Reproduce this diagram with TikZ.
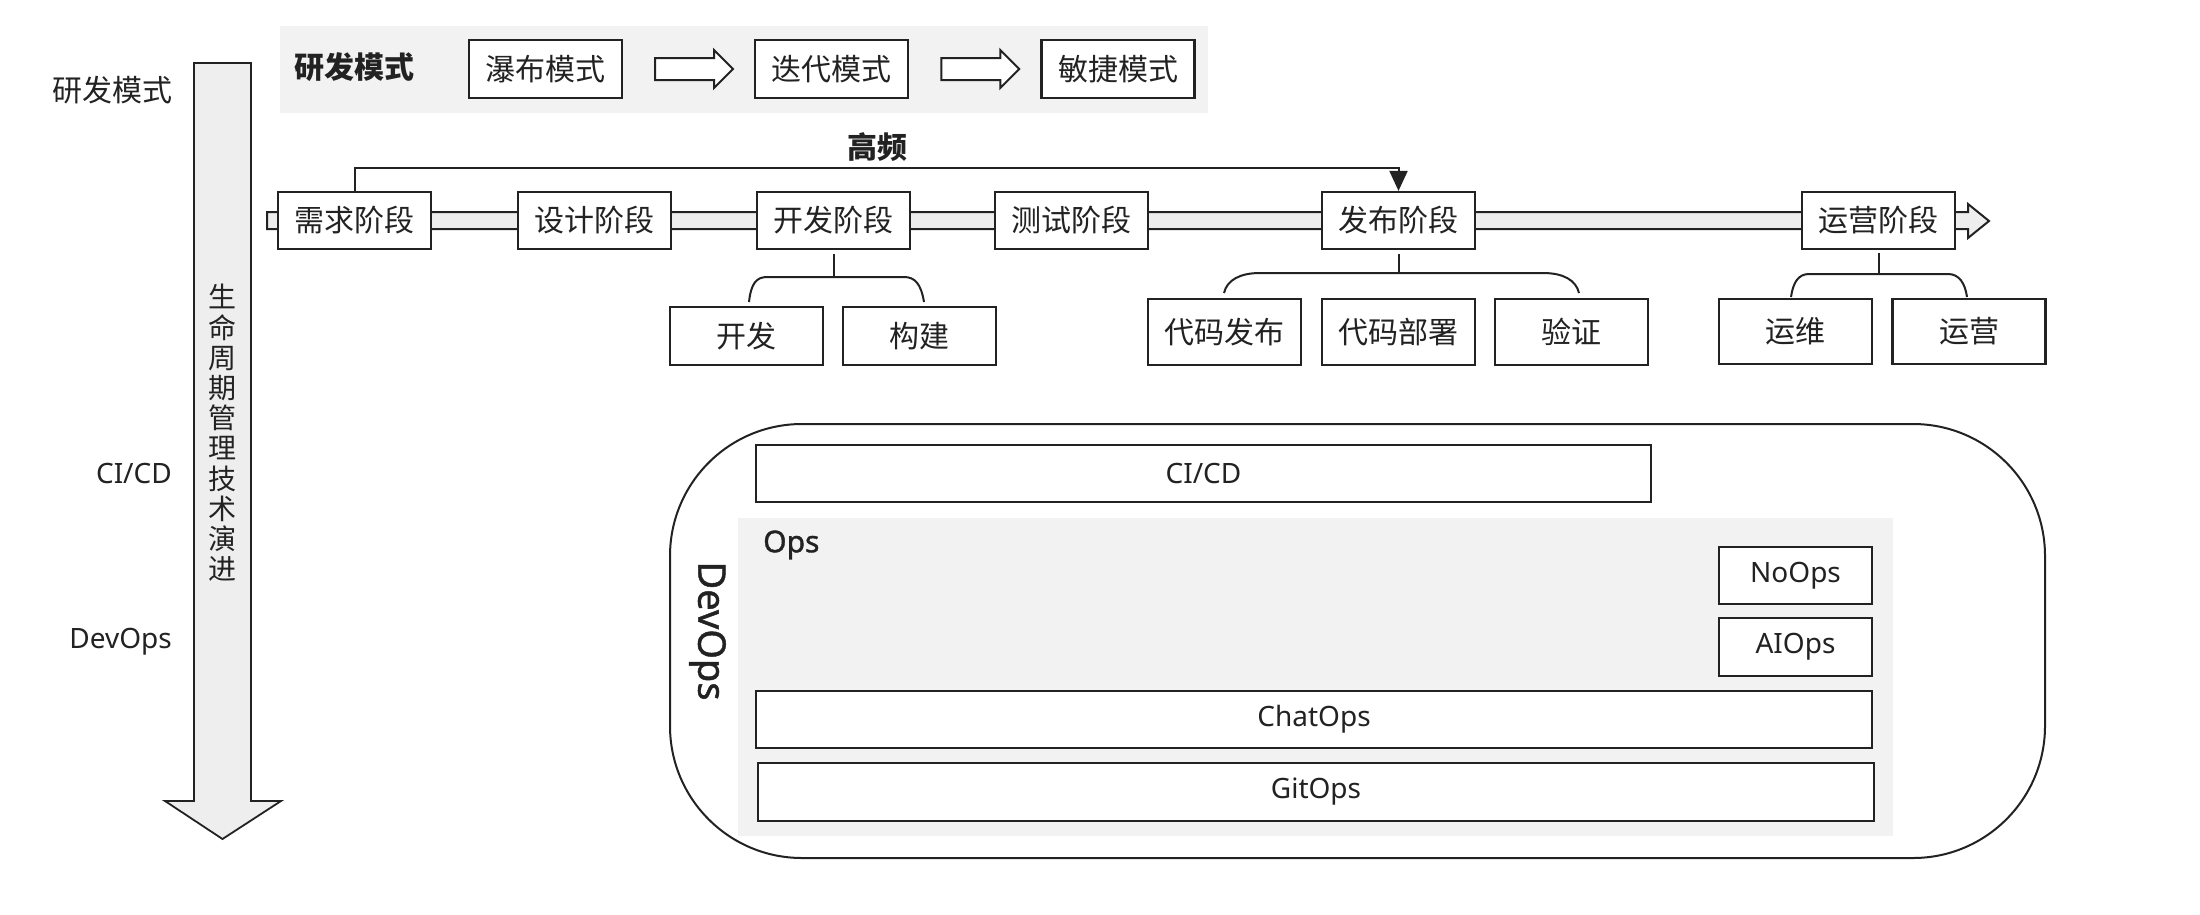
\documentclass[tikz,border=0pt]{standalone}
\usepackage{fontspec}
\setmainfont{Noto Sans}
\newfontfamily\cjk{Noto Sans CJK SC}
\newfontfamily\semib[FakeBold=1.2]{Noto Sans}
\usetikzlibrary{shapes.arrows,arrows.meta,calc}
\newcommand\myzh{\cjk\fontsize{30}{36}\selectfont}
\newcommand\myzhv{\cjk\fontsize{28}{30.2}\selectfont}
\newcommand\myen{\fontsize{28}{34}\selectfont}
\definecolor{bandgray}{HTML}{F2F2F2}
\definecolor{barfill}{HTML}{EEEEEE}
\definecolor{ink}{HTML}{222222}
\begin{document}
\begin{tikzpicture}[x=1pt,y=-1pt,
  zhbox/.style={draw=ink, line width=2.2pt, fill=white, inner sep=0pt, text=ink, font=\myzh, minimum width=153pt},
  enbox/.style={draw=ink, line width=2.2pt, fill=white, inner sep=0pt, text=ink, font=\myen},
  hollow/.style={single arrow, draw=ink, line width=2pt, fill=white, inner xsep=0pt, inner ysep=10pt, minimum height=78pt, single arrow head extend=8pt},
  brace/.style={draw=ink, line width=2pt},
  lbl/.style={inner sep=0pt, text=ink}]
\useasboundingbox (0,0) rectangle (2200,914);
% top band
\node[fill=bandgray, anchor=north west, minimum width=928pt, minimum height=87pt, inner sep=0pt] (band) at (280,26) {};
\node[lbl, font=\myzh\bfseries, anchor=west] (modes) at (294,67) {研发模式};
\node[zhbox, minimum height=58pt] (wf) at (545.5,69) {瀑布模式};
\node[zhbox, minimum height=58pt] (it) at (831.5,69) {迭代模式};
\node[zhbox, minimum height=58pt] (ag) at (1118,69) {敏捷模式};
\node[hollow] (a1) at ($(wf.east)!0.5!(it.west)$) {};
\node[hollow] (a2) at ($(it.east)!0.5!(ag.west)$) {};
% left labels
\node[lbl, font=\myzh, anchor=east] (l1) at (173,90) {研发模式};
\node[lbl, font=\myen, anchor=east] (l2) at (172,473) {CI/CD};
\node[lbl, font=\myen, anchor=east] (l3) at (172,642) {DevOps};
% vertical arrow
\draw[draw=ink, line width=1.8pt, fill=barfill] (194,63) -- (251,63) -- (251,801) -- (281,801) -- (222.5,839) -- (165,801) -- (194,801) -- cycle;
\node[lbl, font=\myzhv, align=center] (vt) at (222.5,433) {生\\命\\周\\期\\管\\理\\技\\术\\演\\进};
% pipeline bar
\draw[draw=ink, line width=2pt, fill=barfill] (267,212) -- (1968,212) -- (1968,204) -- (1989,221) -- (1968,238) -- (1968,229) -- (267,229) -- cycle;
\node[zhbox, minimum height=57pt] (req) at (354.5,220.5) {需求阶段};
\node[zhbox, minimum height=57pt] (des) at (594.5,220.5) {设计阶段};
\node[zhbox, minimum height=57pt] (dev) at (833.5,220.5) {开发阶段};
\node[zhbox, minimum height=57pt] (tst) at (1071.5,220.5) {测试阶段};
\node[zhbox, minimum height=57pt] (rel) at (1398.5,220.5) {发布阶段};
\node[zhbox, minimum height=57pt] (opr) at (1878.5,220.5) {运营阶段};
% high frequency
\draw[draw=ink, line width=2pt, -{Triangle[length=20pt,width=18pt]}] (req.north) -- ++(0,-23) -| (rel.north);
\node[lbl, font=\myzh\bfseries] (hf) at (877,147) {高频};
% children
\node[zhbox, minimum height=58pt] (c1) at (746.5,336) {开发};
\node[zhbox, minimum height=58pt] (c2) at (919.5,336) {构建};
\node[zhbox, minimum height=66pt] (c3) at (1224.5,332) {代码发布};
\node[zhbox, minimum height=66pt] (c4) at (1398.5,332) {代码部署};
\node[zhbox, minimum height=66pt] (c5) at (1571.5,332) {验证};
\node[zhbox, minimum height=65pt] (c6) at (1795.5,331.5) {运维};
\node[zhbox, minimum height=65pt] (c7) at (1969,331.5) {运营};
% braces
\draw[brace] ([yshift=-4pt]dev.south) -- (833.5,277);
\draw[brace] (749,302) .. controls (751,284) and (756,277) .. (767,277) -- (904,277) .. controls (915,277) and (921,284) .. (924,302);
\draw[brace] ([yshift=-4pt]rel.south) -- (1398.5,273);
\draw[brace] (1224,293) .. controls (1227,280) and (1240,273) .. (1260,273) -- (1543,273) .. controls (1563,273) and (1576,280) .. (1579,293);
\draw[brace] ([yshift=-3pt]opr.south) -- (1878.5,274);
\draw[brace] (1791,297) .. controls (1793,283) and (1798,274) .. (1809,274) -- (1948,274) .. controls (1959,274) and (1965,283) .. (1967,297);
% DevOps container
\node[draw=ink, line width=2pt, rounded corners=132pt, minimum width=1375pt, minimum height=434pt, inner sep=0pt] (devops) at (1357.5,641) {};
\node[lbl, font=\semib\fontsize{38}{44}\selectfont, rotate=-90] (devlbl) at (707.5,631) {DevOps};
\node[enbox, minimum width=895pt, minimum height=57pt] (cicd) at (1203.5,473.5) {CI/CD};
\node[fill=bandgray, anchor=north west, minimum width=1155pt, minimum height=318pt, inner sep=0pt] (ops) at (738,518) {};
\node[lbl, font=\semib\fontsize{30}{36}\selectfont, anchor=west] (opslbl) at (763,545) {Ops};
\node[enbox, minimum width=153pt, minimum height=57pt] (noops) at (1795.5,575.5) {NoOps};
\node[enbox, minimum width=153pt, minimum height=58pt] (aiops) at (1795.5,647) {AIOps};
\node[enbox, minimum width=1116pt, minimum height=57pt] (chat) at (1314,719.5) {ChatOps};
\node[enbox, minimum width=1116pt, minimum height=58pt] (git) at (1316,792) {GitOps};
\end{tikzpicture}
\end{document}
